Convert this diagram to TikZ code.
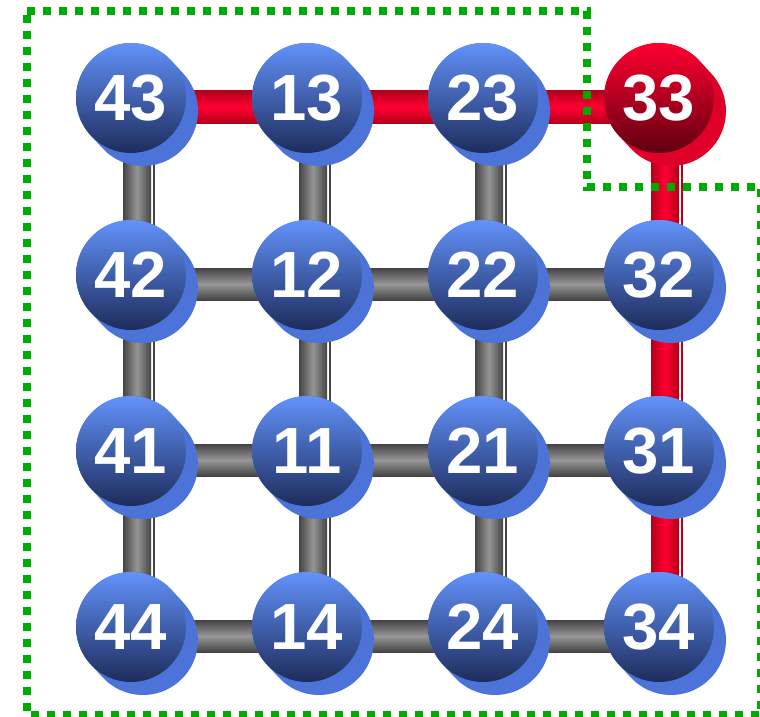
\documentclass[tikz,border=0pt]{standalone}
\usepackage{fontspec}
\setmainfont{Liberation Sans}
\usepackage{tikz}
\usetikzlibrary{calc,backgrounds}
\definecolor{BallTop}{RGB}{98,146,250}
\definecolor{BallBottom}{RGB}{30,44,92}
\definecolor{BallBack}{RGB}{76,116,216}
\definecolor{HotTop}{RGB}{255,0,48}
\definecolor{HotBottom}{RGB}{96,0,16}
\definecolor{HotBack}{RGB}{222,0,40}
\definecolor{GrayEdge}{RGB}{68,68,68}
\definecolor{GrayMid}{RGB}{150,150,150}
\definecolor{RedEdge}{RGB}{180,0,24}
\definecolor{RedMid}{RGB}{255,0,50}
\definecolor{PathGreen}{RGB}{0,170,0}

\tikzset{
  ball/.style={circle, inner sep=0pt, minimum size=82.5pt, top color=BallTop, bottom color=BallBottom,
    text=white, font=\fontsize{49}{49}\selectfont\bfseries},
  hotball/.style={ball, top color=HotTop, bottom color=HotBottom},
  ballback/.style={line width=82.5pt, line cap=round, #1},
  hrod/.style={top color=#1Edge, bottom color=#1Edge, middle color=#1Mid},
  vrod/.style={left color=#1Edge, right color=#1Edge, middle color=#1Mid},
  rodedge/.style={line width=1.5pt, #1Edge},
  border/.style={PathGreen, line width=6pt, dash pattern=on 6pt off 6pt}
}

\begin{document}
\begin{tikzpicture}[x=0.75pt, y=-0.75pt]
  \useasboundingbox (0,0) rectangle (760,717);

  % Grid of balls
  \foreach \v/\x/\y in {43/131/98, 13/307/98, 23/483/98,
      42/131/275, 12/307/275, 22/483/275, 32/659/275,
      41/131/451, 11/307/451, 21/483/451, 31/659/451,
      44/131/627, 14/307/627, 24/483/627, 34/659/627}{
    \node[ball] (b\v) at (\x,\y) {\raisebox{-2pt}{\v}};
  }
  \node[hotball] (b33) at (659,98) {\raisebox{-2pt}{33}};

  \begin{pgfonlayer}{background}
    % Horizontal rods
    \foreach \a/\b/\c in {43/13/Red, 13/23/Red, 23/33/Red,
        42/12/Gray, 12/22/Gray, 22/32/Gray,
        41/11/Gray, 11/21/Gray, 21/31/Gray,
        44/14/Gray, 14/24/Gray, 24/34/Gray}{
      \shade[hrod=\c] ($(b\a.center)+(0,-7)$) rectangle ($(b\b.center)+(0,25)$);
    }
    % Vertical rods
    \foreach \a/\b/\c in {43/42/Gray, 42/41/Gray, 41/44/Gray,
        13/12/Gray, 12/11/Gray, 11/14/Gray,
        23/22/Gray, 22/21/Gray, 21/24/Gray,
        33/32/Red, 32/31/Red, 31/34/Red}{
      \shade[vrod=\c] ($(b\a.center)+(-8,0)$) rectangle ($(b\b.center)+(20,0)$);
      \draw[rodedge=\c] ($(b\a.center)+(23,0)$) -- ($(b\b.center)+(23,0)$);
    }
    % Backs of the balls
    \foreach \v in {43,13,23,42,12,22,32,41,11,21,31,44,14,24,34}{
      \draw[ballback=BallBack] (b\v.center) -- ++(12,13);
    }
    \draw[ballback=HotBack] (b33.center) -- ++(12,13);
  \end{pgfonlayer}

  % Dotted border
  \draw[border] (27,11) -- (587,11) -- (587,187) -- (761,187) -- (761,715) -- (27,715) -- cycle;
\end{tikzpicture}
\end{document}
